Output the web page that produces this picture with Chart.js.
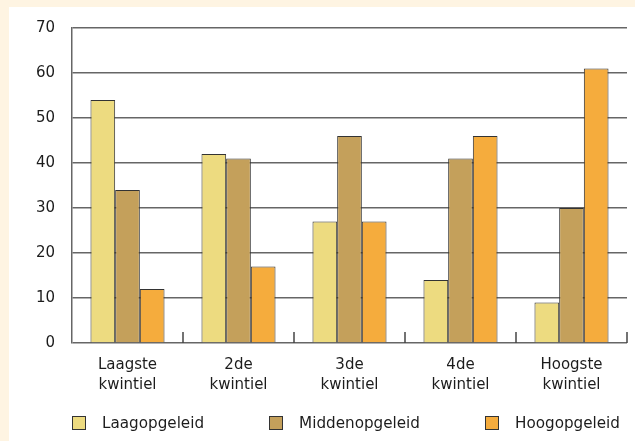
<!DOCTYPE html>
<html>
<head>
<meta charset="utf-8">
<script src="https://cdn.jsdelivr.net/npm/chart.js@4/dist/chart.umd.min.js"></script>
<style>
    html, body { margin: 0; padding: 0; }
    body { width: 635px; height: 441px; background: #fef4e2; position: relative; overflow: hidden; font-family: "DejaVu Sans", sans-serif; }
    #panel { position: absolute; left: 9px; top: 7px; width: 626px; height: 434px; background: #ffffff; }
    #chart { position: absolute; left: 0; top: 0; }
    #legend { position: absolute; left: 63px; width: 548px; top: 407px; display: flex; justify-content: space-between; font-size: 15.2px; color: #1c1c1c; }
    .item { display: flex; align-items: center; }
    .box { width: 12px; height: 12px; border: 1px solid #333; margin-right: 16px; }
</style>
</head>
<body>
<div id="panel">
    <canvas id="chart" width="626" height="434"></canvas>
    <div id="legend"></div>
</div>
<script>
// Chart data
const categories = [['Laagste', 'kwintiel'], ['2de', 'kwintiel'], ['3de', 'kwintiel'], ['4de', 'kwintiel'], ['Hoogste', 'kwintiel']];
const seriesNames = ['Laagopgeleid', 'Middenopgeleid', 'Hoogopgeleid'];
const laagValues = [54, 42, 27, 14, 9];
const middenValues = [34, 41, 46, 41, 30];
const hoogValues = [12, 17, 27, 46, 61];
const colors = ['#eddb80', '#c4a05b', '#f5ac3d'];

// Inner tick marks at the category boundaries
const boundaryTicks = {
    id: 'boundaryTicks',
    afterDatasetsDraw(chart) {
        const x = chart.scales.x;
        const ctx = chart.ctx;
        const bottom = chart.chartArea.bottom;
        ctx.save();
        ctx.strokeStyle = '#444';
        ctx.lineWidth = 1.5;
        for (let i = 1; i <= categories.length; i++) {
            const px = x.getPixelForValue(i - 0.5);
            ctx.beginPath();
            ctx.moveTo(px, bottom);
            ctx.lineTo(px, bottom - 11);
            ctx.stroke();
        }
        ctx.restore();
    }
};

document.addEventListener('DOMContentLoaded', function() {
    const values = [laagValues, middenValues, hoogValues];
    const ctx = document.getElementById('chart').getContext('2d');
    new Chart(ctx, {
        type: 'bar',
        data: {
            labels: categories,
            datasets: seriesNames.map((name, i) => ({
                label: name,
                data: values[i],
                backgroundColor: colors[i],
                borderColor: '#333',
                borderWidth: 1
            }))
        },
        options: {
            responsive: false,
            animation: false,
            categoryPercentage: 0.667,
            barPercentage: 1.0,
            layout: { padding: { top: 21, right: 8, bottom: 38, left: 0 } },
            plugins: {
                legend: { display: false },
                tooltip: { enabled: false }
            },
            scales: {
                x: {
                    grid: { display: false },
                    border: { display: false },
                    ticks: {
                        color: '#1c1c1c',
                        padding: 4,
                        maxRotation: 0,
                        font: { family: 'DejaVu Sans', size: 15, lineHeight: 1.33 }
                    },
                    afterFit(scale) { scale.height = 60; }
                },
                y: {
                    min: 0,
                    max: 70,
                    ticks: {
                        stepSize: 10,
                        color: '#1c1c1c',
                        padding: 17,
                        font: { family: 'DejaVu Sans', size: 15 }
                    },
                    grid: { color: '#666', lineWidth: 1.5, drawTicks: false },
                    border: { color: '#666', width: 1.5 },
                    afterFit(scale) {
                        scale.width = 63;
                        scale.paddingTop = 0;
                        scale.paddingBottom = 0;
                    }
                }
            }
        },
        plugins: [boundaryTicks]
    });

    // Legend
    const legend = document.getElementById('legend');
    seriesNames.forEach((name, i) => {
        const item = document.createElement('div');
        item.className = 'item';
        item.innerHTML = '<span class="box" style="background:' + colors[i] + '"></span><span>' + name + '</span>';
        legend.appendChild(item);
    });
});
</script>
</body>
</html>
